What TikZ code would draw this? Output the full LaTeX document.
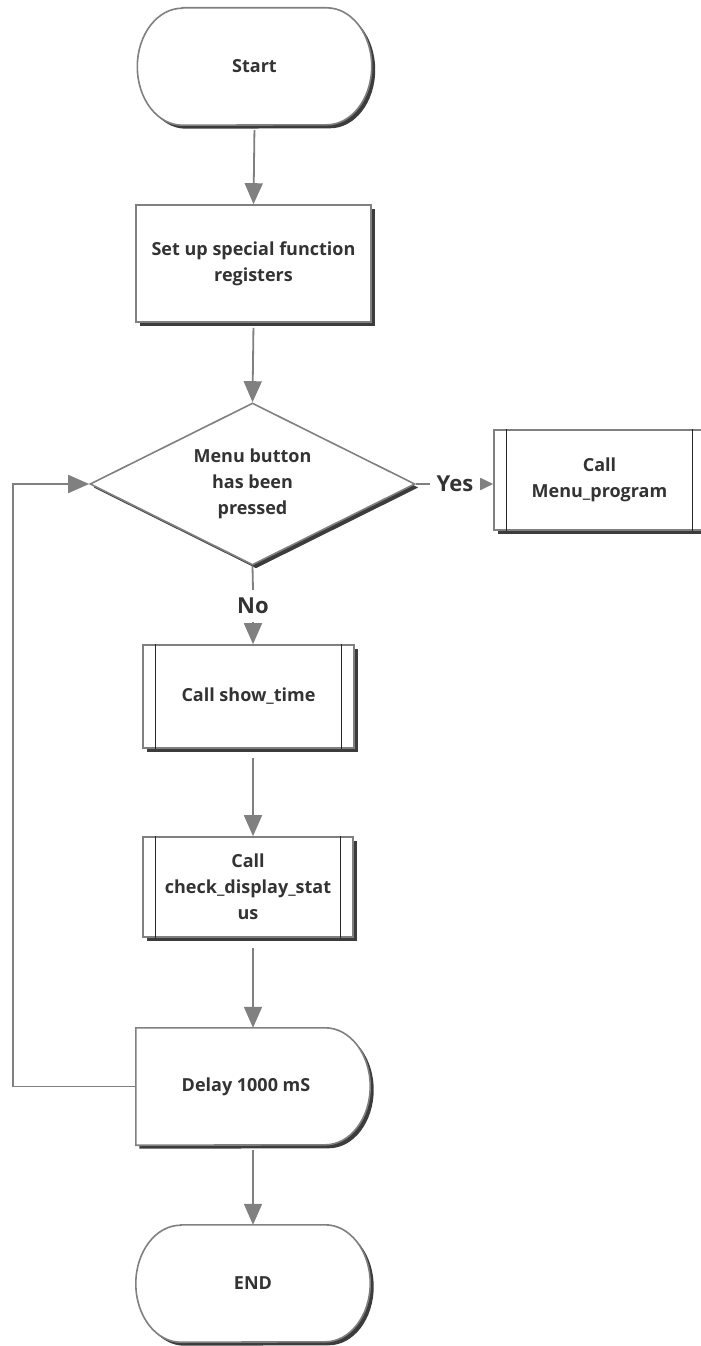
\documentclass[tikz,border=0pt]{standalone}
\usepackage{fontspec}
\setmainfont{Open Sans}
\usetikzlibrary{shadows,arrows.meta,calc,shapes.geometric,backgrounds}
\definecolor{lc}{RGB}{128,128,128}
\definecolor{tc}{RGB}{51,51,51}
\definecolor{shc}{RGB}{60,60,60}
\tikzset{
  txt/.style={text=tc, font=\fontsize{18}{26}\selectfont\bfseries, align=center},
  shd/.style={drop shadow={shadow xshift=3.5pt, shadow yshift=-3.5pt, fill=shc, opacity=1}},
  outl/.style={draw=lc, line width=1.6pt, fill=white, shd},
  boxnode/.style={txt, outl, rectangle, inner sep=0pt},
  ghost/.style={txt, rectangle, inner sep=0pt, minimum width=234pt, minimum height=117pt},
  decnode/.style={txt, outl, diamond, aspect=2, inner sep=0pt, minimum width=325pt, minimum height=162pt},
  lbl/.style={text=tc, font=\fontsize{22}{24}\selectfont\bfseries, inner sep=1pt},
  conn/.style={draw=lc, line width=1.8pt},
  arr/.style={conn, -{Triangle[length=21pt,width=18pt]}},
  sarr/.style={conn, -{Triangle[length=13pt,width=12pt]}},
  inner/.style={draw=black!85, line width=1.1pt},
}
\begin{document}
\begin{tikzpicture}[x=1pt,y=1pt]
\useasboundingbox (0,0) rectangle (701,-1346);
\clip (0,0) rectangle (701,-1346);
% nodes
\node[ghost] (start) at (254.5,-66.5) {Start};
\node[boxnode, minimum width=235pt, minimum height=117pt] (setup) at (253.5,-263.5) {Set up special function\\registers};
\node[decnode] (dec) at (252.5,-484) {Menu button\\has been\\pressed};
\node[lbl, inner xsep=7pt] (yes) at (455,-484) {Yes};
\node[boxnode, minimum width=211pt, minimum height=100pt] (menu) at (599.5,-480) {Call\\Menu\_program};
\node[lbl, inner ysep=8pt] (no) at (253,-606) {No};
\node[boxnode, minimum width=211pt, minimum height=103pt] (show) at (248.5,-696.5) {Call show\_time};
\node[boxnode, minimum width=210pt, minimum height=100pt] (check) at (248,-887) {Call\\check\_display\_stat\\us};
\node[ghost] (delay) at (253,-1086.5) {Delay 1000 mS\kern14pt};
\node[ghost] (end) at (253,-1283.5) {END};
% custom outlines
\begin{scope}[on background layer]
  \path[outl] ($(start.north west)+(45,0)$) -- ($(start.north east)+(-45,0)$)
    arc[start angle=90, end angle=-90, x radius=45pt, y radius=58.5pt]
    -- ($(start.south west)+(45,0)$)
    arc[start angle=270, end angle=90, x radius=45pt, y radius=58.5pt] -- cycle;
  \path[outl] ($(end.north west)+(45,0)$) -- ($(end.north east)+(-45,0)$)
    arc[start angle=90, end angle=-90, x radius=45pt, y radius=58.5pt]
    -- ($(end.south west)+(45,0)$)
    arc[start angle=270, end angle=90, x radius=45pt, y radius=58.5pt] -- cycle;
  \path[outl] (delay.north west) -- ($(delay.north east)+(-45,0)$)
    arc[start angle=90, end angle=-90, x radius=45pt, y radius=58.5pt]
    -- (delay.south west) -- cycle;
\end{scope}
% predefined process inner lines
\foreach \n in {menu,show,check}{
  \draw[inner] ($(\n.north west)+(13,0)$) -- ($(\n.south west)+(13,0)$);
  \draw[inner] ($(\n.north east)+(-13,0)$) -- ($(\n.south east)+(-13,0)$);
}
% connectors
\draw[arr, shorten <=5pt] (start.south) -- (setup.north);
\draw[arr, shorten <=5pt] (setup.south) -- (dec.north);
\draw[conn] (dec.south) -- (no.north);
\draw[arr] (no.south) -- (no.south |- show.north);
\draw[arr, shorten <=9pt] (no.south |- show.south) -- (no.south |- check.north);
\draw[arr, shorten <=10pt] (no.south |- check.south) -- (delay.north);
\draw[arr, shorten <=5pt] (delay.south) -- (end.north);
\draw[conn] (dec.east) -- (yes.west);
\draw[sarr] (yes.east) -- (yes.east -| menu.west);
\draw[arr] (delay.west) -- ++(-123,0) |- (dec.west);
\end{tikzpicture}
\end{document}
